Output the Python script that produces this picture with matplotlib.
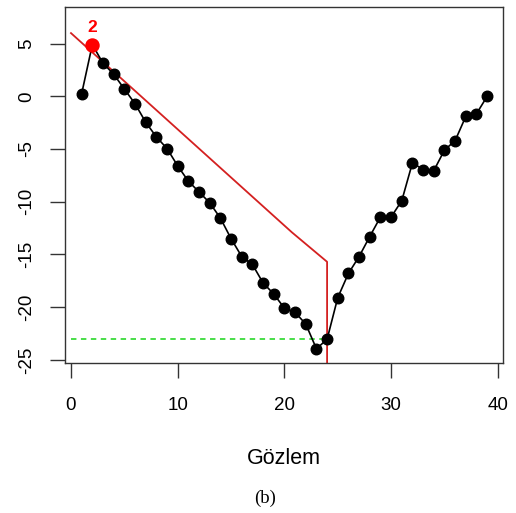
import matplotlib
import matplotlib.pyplot as plt

matplotlib.use('Agg')

plt.rcParams['font.family'] = ['Liberation Sans', 'DejaVu Sans']

obs = list(range(1, 40))
values = [0.25, 4.9, 3.15, 2.1, 0.7, -0.7, -2.45, -3.85, -4.95, -6.6,
          -8.05, -9.07, -10.1, -11.55, -13.5, -15.2, -15.95, -17.7, -18.75, -20.1,
          -20.5, -21.6, -23.95, -23.05, -19.1, -16.8, -15.2, -13.3, -11.45, -11.45,
          -9.9, -6.3, -6.95, -7.05, -5.1, -4.2, -1.9, -1.65, 0.0]

# red decision line
red_x = [0, 20.7, 24, 24]
red_y = [6.0, -12.9, -15.7, -30]

# green dashed level
green_x = [0, 24]
green_y = [-23.05, -23.05]

peak_idx = 2

fig = plt.figure(figsize=(5.16, 5.13), dpi=100)
ax = fig.add_axes([0.1266, 0.2924, 0.8477, 0.6934])

ax.plot(obs, values, color='black', linewidth=1.2, marker='o', markersize=7.6, zorder=3)
ax.plot(red_x, red_y, color='#D42020', linewidth=1.3, zorder=2)
ax.plot(green_x, green_y, color='#3ADB3A', linewidth=1.3, dashes=(3, 2.5), zorder=2)
ax.plot(obs[peak_idx - 1], values[peak_idx - 1], 'o', color='red', markersize=9.4, zorder=4)
ax.text(obs[peak_idx - 1], values[peak_idx - 1] + 1.65, str(peak_idx), color='red',
        fontsize=12.5, fontweight='bold', ha='center', va='center', zorder=5)

ax.set_xlim(-0.53, 40.46)
ax.set_ylim(-25.3, 8.45)
ax.set_xticks([0, 10, 20, 30, 40])
ax.set_yticks([5, 0, -5, -10, -15, -20, -25])
ax.set_yticklabels(['5', '0', '-5', '-10', '-15', '-20', '-25'], rotation=90, va='center')

for s in ax.spines.values():
    s.set_color('#333333')
    s.set_linewidth(1.0)
ax.tick_params(axis='both', length=10.5, width=1.0, color='#333333', labelsize=13.5)
ax.tick_params(axis='x', pad=14)
ax.tick_params(axis='y', pad=11)

fig.text(0.55, 0.107, 'Gözlem', fontsize=15.5, ha='center', va='center')
fig.text(0.513, 0.029, '(b)', fontsize=13.5, ha='center', va='center', family='Liberation Serif')

fig.savefig('out.png', dpi=100)
plt.close(fig)
